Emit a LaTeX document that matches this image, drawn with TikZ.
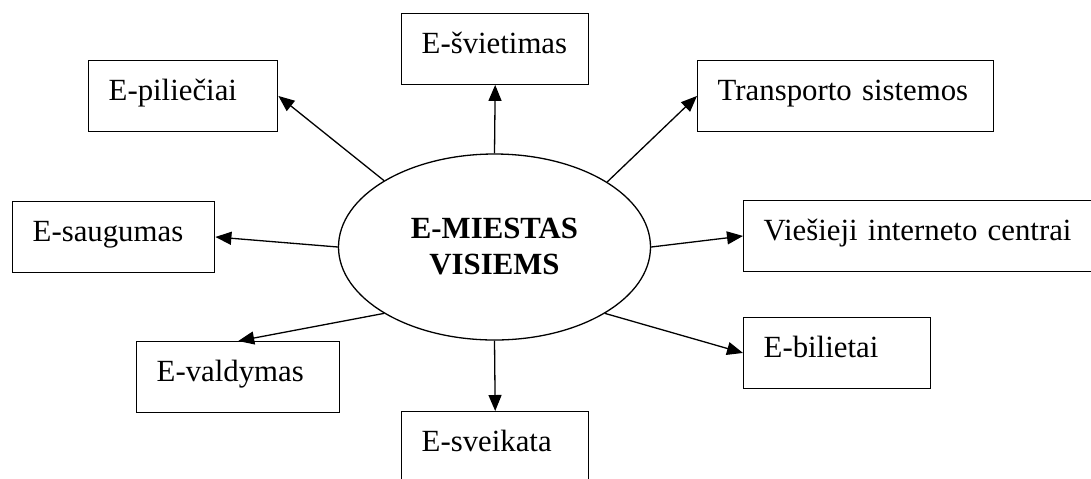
\documentclass[tikz,border=0pt]{standalone}
\usepackage{fontspec}
\setmainfont{Liberation Serif}
\usetikzlibrary{arrows.meta,shapes.geometric}

\tikzset{
  unit/.style={draw, line width=0.7pt, anchor=north west, align=left,
    inner xsep=10pt, inner ysep=0pt, text height=20pt, text depth=15.25pt,
    font=\fontsize{15.4}{18}\selectfont},
  hub/.style={draw, ellipse, line width=0.65pt, minimum width=156pt, minimum height=93pt,
    inner sep=0pt, align=center, font=\bfseries\fontsize{15.4}{18}\selectfont},
  link/.style={->, line width=0.65pt}
}

\begin{document}
\begin{tikzpicture}[x=0.5pt,y=-0.5pt,>={Triangle[length=8pt,width=6.5pt]}]
  \path[use as bounding box, clip] (0,0) rectangle (1091,478);
  % Central ellipse
  \node[hub] (city) at (494.5,247) {E-MIESTAS\\VISIEMS};
  % Surrounding boxes (top left corners)
  \node[unit, text width=73.5pt] (svi) at (401,13) {E-švietimas};
  \node[unit, text width=74.5pt] (pil) at (88,60) {E-piliečiai};
  \node[unit, text width=128pt] (tra) at (697,60) {Transporto sistemos};
  \node[unit, text width=81pt] (sau) at (12,201) {E-saugumas};
  \node[unit, text width=170pt] (vie) at (743,200) {Viešieji interneto centrai};
  \node[unit, text width=81.5pt] (val) at (136,341) {E-valdymas};
  \node[unit, text width=73.5pt] (bil) at (743,317) {E-bilietai};
  \node[unit, text width=73.5pt] (sve) at (401,411) {E-sveikata};
  % Connectors from the ellipse
  \draw[link] (city.north) -- (svi.south);
  \draw[link] (city.149) -- (pil.east);
  \draw[link] (city.30) -- (tra.west);
  \draw[link] (city.west) -- (sau.east);
  \draw[link] (city.east) -- (vie.west);
  \draw[link] (city.211) -- (val.north);
  \draw[link] (city.329) -- (bil.west);
  \draw[link] (city.south) -- (sve.north);
\end{tikzpicture}
\end{document}
